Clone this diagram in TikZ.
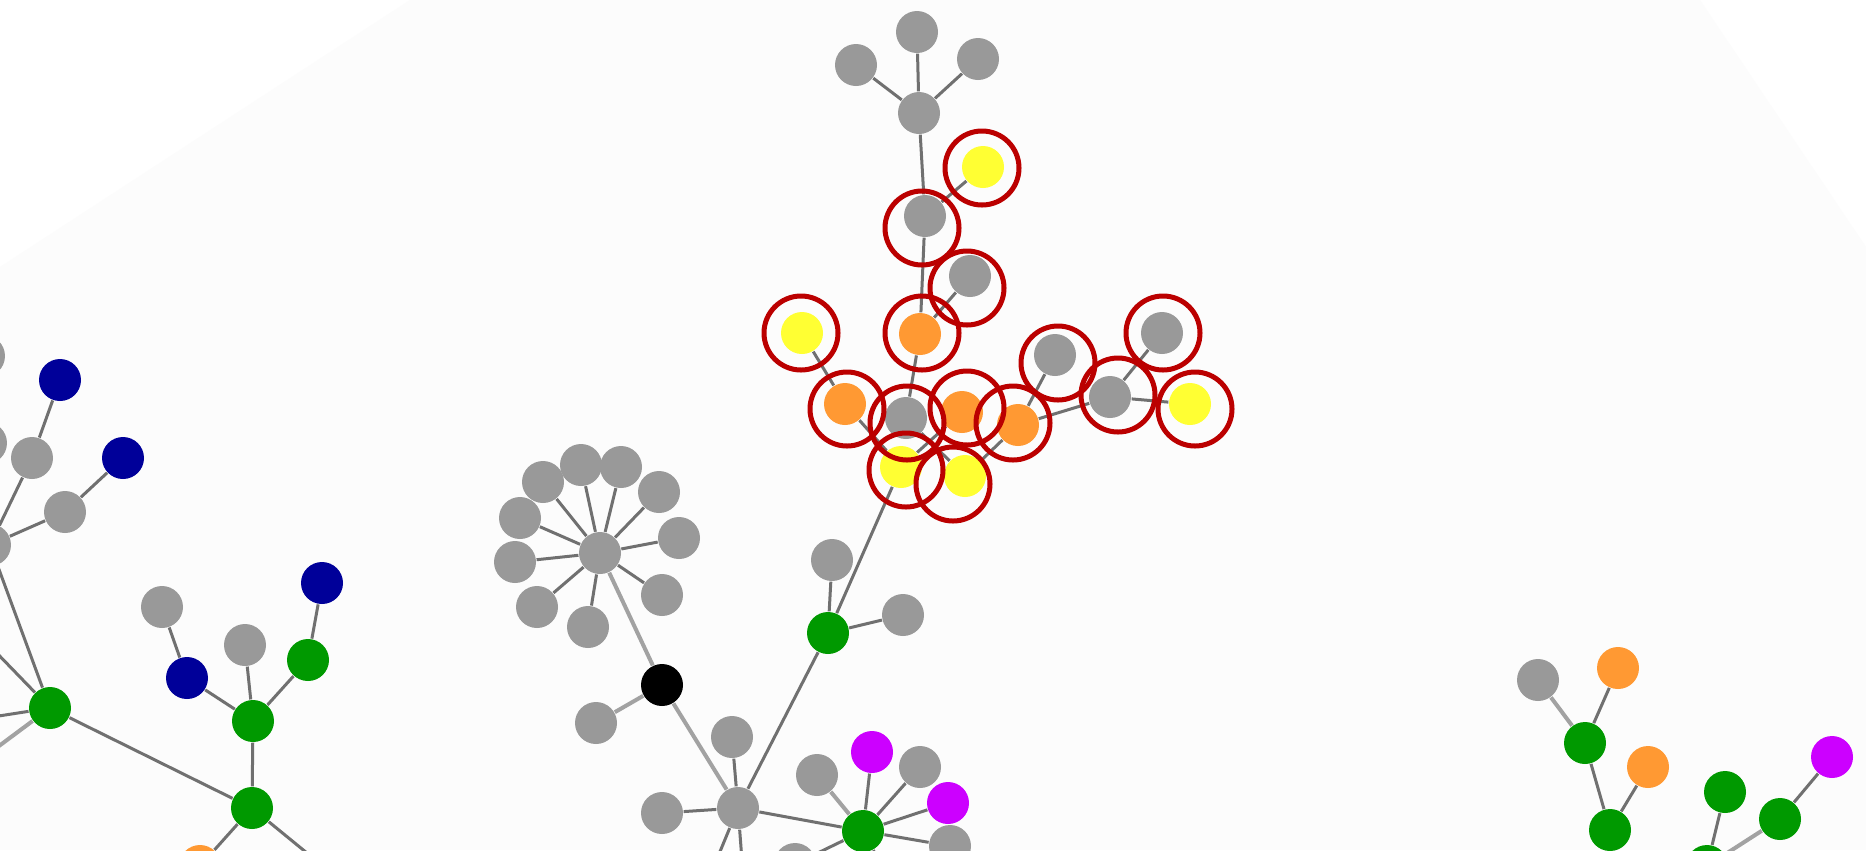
\documentclass[tikz,border=0pt]{standalone}
\usepackage{tikz}
\usetikzlibrary{backgrounds}
\definecolor{ngray}{HTML}{999999}
\definecolor{nyellow}{HTML}{FFFF33}
\definecolor{norange}{HTML}{FF9933}
\definecolor{ngreen}{HTML}{009900}
\definecolor{nblue}{HTML}{000099}
\definecolor{nmagenta}{HTML}{CC00FF}
\definecolor{ringred}{HTML}{BB0000}
\definecolor{linkgray}{HTML}{707070}
\definecolor{softgray}{HTML}{A2A2A2}
\definecolor{bgpoly}{HTML}{FCFCFC}
\tikzset{
  vert/.style={circle, inner sep=0pt, minimum size=4.2mm},
  gnode/.style={vert, fill=ngray},
  ynode/.style={vert, fill=nyellow},
  onode/.style={vert, fill=norange},
  grnode/.style={vert, fill=ngreen},
  bnode/.style={vert, fill=nblue},
  mnode/.style={vert, fill=nmagenta},
  knode/.style={vert, fill=black},
  ring/.style={circle, draw=ringred, line width=0.5mm, minimum size=7.4mm, inner sep=0pt},
  link/.style={draw=linkgray, line width=0.3mm},
  softlink/.style={draw=softgray, line width=0.4mm},
}

\begin{document}
\begin{tikzpicture}[x=0.1mm, y=-0.1mm]
\useasboundingbox (0,0) rectangle (1866,850);
% ---- highlighted cluster (top) ----
\node[gnode] (cA) at (917,32) {};
\node[gnode] (cB) at (856,65) {};
\node[gnode] (cC) at (978,59) {};
\node[gnode] (cD) at (919,113) {};
\node[ynode] (cE) at (983,167) {};
\node[gnode] (cF) at (925,216) {};
\node[gnode] (cG) at (970,276) {};
\node[onode] (cH) at (920,334) {};
\node[ynode] (cI) at (802,333) {};
\node[onode] (cJ) at (845,404) {};
\node[gnode] (cK) at (906,418) {};
\node[onode] (cL) at (962,412) {};
\node[onode] (cM) at (1018,425) {};
\node[gnode] (cN) at (1055,355) {};
\node[gnode] (cO) at (1110,397) {};
\node[gnode] (cP) at (1162,333) {};
\node[ynode] (cQ) at (1190,404) {};
\node[ynode] (cR) at (901,467) {};
\node[ynode] (cS) at (965,476) {};
% ---- dandelion hub ----
\node[gnode] (hub) at (600,553) {};
\node[gnode] (d1) at (543,482) {};
\node[gnode] (d2) at (581,465) {};
\node[gnode] (d3) at (621,467) {};
\node[gnode] (d4) at (659,492) {};
\node[gnode] (d5) at (679,538) {};
\node[gnode] (d6) at (662,595) {};
\node[gnode] (d7) at (588,627) {};
\node[gnode] (d8) at (537,607) {};
\node[gnode] (d9) at (515,562) {};
\node[gnode] (d10) at (520,518) {};
\node[knode] (blk) at (662,685) {};
\node[gnode] (blkl) at (596,723) {};
% ---- middle branch ----
\node[gnode] (T) at (738,808) {};
\node[gnode] (t1) at (732,737) {};
\node[gnode] (t2) at (662,813) {};
\node[grnode] (U) at (828,633) {};
\node[gnode] (u1) at (832,560) {};
\node[gnode] (u2) at (903,615) {};
\node[grnode] (V) at (863,831) {};
\node[mnode] (v1) at (872,752) {};
\node[gnode] (v2) at (817,775) {};
\node[gnode] (v3) at (920,767) {};
\node[mnode] (v4) at (948,803) {};
\node[gnode] (v5) at (950,846) {};
\node[gnode] (v6) at (795,864) {};
% ---- left branch ----
\node[bnode] (b1) at (60,380) {};
\node[gnode] (a1) at (32,458) {};
\node[bnode] (b2) at (123,458) {};
\node[gnode] (a2) at (65,512) {};
\node[gnode] (p0) at (-10,545) {};
\node[gnode] (p1) at (-14,443) {};
\node[gnode] (p2) at (-16,356) {};
\node[grnode] (g1) at (50,708) {};
\node[gnode] (a3) at (162,607) {};
\node[bnode] (b3) at (187,678) {};
\node[gnode] (a4) at (245,645) {};
\node[bnode] (b4) at (322,583) {};
\node[grnode] (g2) at (308,660) {};
\node[grnode] (g3) at (253,721) {};
\node[grnode] (g4) at (252,808) {};
\node[onode] (o1) at (200,866) {};
% ---- right branch ----
\node[gnode] (r1) at (1538,680) {};
\node[onode] (r2) at (1618,668) {};
\node[grnode] (r3) at (1585,743) {};
\node[onode] (r4) at (1648,767) {};
\node[grnode] (r5) at (1610,830) {};
\node[grnode] (r6) at (1725,792) {};
\node[grnode] (r7) at (1780,819) {};
\node[mnode] (r8) at (1832,757) {};
\node[grnode] (r9) at (1707,866) {};
% ---- loose ends off the frame ----
\coordinate (offA) at (-40,615);
\coordinate (offB) at (-40,722);
\coordinate (offC) at (-40,775);
\coordinate (offD) at (340,880);
\coordinate (offE) at (700,900);
\coordinate (offF) at (745,900);
\coordinate (offG) at (900,900);
\coordinate (offH) at (1625,900);
% ---- red rings ----
\node[ring] (rE) at (982,168) {};
\node[ring] (rF) at (922,228) {};
\node[ring] (rG) at (967,288) {};
\node[ring] (rH) at (922,333) {};
\node[ring] (rI) at (801,333) {};
\node[ring] (rJ) at (847,409) {};
\node[ring] (rK) at (907,423) {};
\node[ring] (rL) at (967,408) {};
\node[ring] (rM) at (1013,423) {};
\node[ring] (rN) at (1058,363) {};
\node[ring] (rO) at (1118,395) {};
\node[ring] (rP) at (1163,333) {};
\node[ring] (rQ) at (1195,409) {};
\node[ring] (rR) at (906,470) {};
\node[ring] (rS) at (953,484) {};
% ---- background and links ----
\begin{scope}[on background layer]
\fill[white] (0,0) rectangle (1866,850);
\fill[bgpoly] (0,267) -- (410,0) -- (1700,0) -- (1866,247) -- (1866,850) -- (0,850) -- cycle;
% cluster
\draw[link] (cA) -- (cD);
\draw[link] (cB) -- (cD);
\draw[link] (cC) -- (cD);
\draw[link] (cD) -- (cF);
\draw[link] (cF) -- (cE);
\draw[link] (cF) -- (cH);
\draw[link] (cH) -- (cG);
\draw[link] (cH) -- (cK);
\draw[link] (cI) -- (cJ);
\draw[link] (cJ) -- (cR);
\draw[link] (cK) -- (cS);
\draw[link] (cL) -- (cR);
\draw[link] (cM) -- (cS);
\draw[link] (cM) -- (cN);
\draw[link] (cM) -- (cO);
\draw[link] (cO) -- (cP);
\draw[link] (cO) -- (cQ);
\draw[link] (cR) -- (U);
% dandelion
\draw[link] (hub) -- (d1);
\draw[link] (hub) -- (d2);
\draw[link] (hub) -- (d3);
\draw[link] (hub) -- (d4);
\draw[link] (hub) -- (d5);
\draw[link] (hub) -- (d6);
\draw[link] (hub) -- (d7);
\draw[link] (hub) -- (d8);
\draw[link] (hub) -- (d9);
\draw[link] (hub) -- (d10);
\draw[softlink] (hub) -- (blk);
\draw[softlink] (blk) -- (blkl);
\draw[softlink] (blk) -- (T);
% middle
\draw[link] (U) -- (u1);
\draw[link] (U) -- (u2);
\draw[link] (U) -- (T);
\draw[link] (T) -- (t1);
\draw[link] (T) -- (t2);
\draw[link] (T) -- (V);
\draw[link] (T) -- (offE);
\draw[link] (T) -- (offF);
\draw[link] (V) -- (v1);
\draw[softlink] (V) -- (v2);
\draw[link] (V) -- (v3);
\draw[link] (V) -- (v4);
\draw[link] (V) -- (v5);
\draw[link] (V) -- (v6);
\draw[link] (V) -- (offG);
% left
\draw[link] (b1) -- (a1);
\draw[link] (a1) -- (p0);
\draw[link] (a2) -- (p0);
\draw[link] (a2) -- (b2);
\draw[link] (p0) -- (g1);
\draw[link] (offA) -- (g1);
\draw[link] (g1) -- (offB);
\draw[softlink] (g1) -- (offC);
\draw[link] (g1) -- (g4);
\draw[link] (g4) -- (g3);
\draw[link] (g3) -- (b3);
\draw[link] (g3) -- (a4);
\draw[link] (g3) -- (g2);
\draw[link] (g2) -- (b4);
\draw[link] (a3) -- (b3);
\draw[link] (g4) -- (o1);
\draw[link] (g4) -- (offD);
% right
\draw[softlink] (r1) -- (r3);
\draw[link] (r2) -- (r3);
\draw[link] (r3) -- (r5);
\draw[link] (r4) -- (r5);
\draw[link] (r5) -- (offH);
\draw[link] (r6) -- (r9);
\draw[softlink] (r7) -- (r9);
\draw[link] (r7) -- (r8);
\end{scope}
\end{tikzpicture}
\end{document}
